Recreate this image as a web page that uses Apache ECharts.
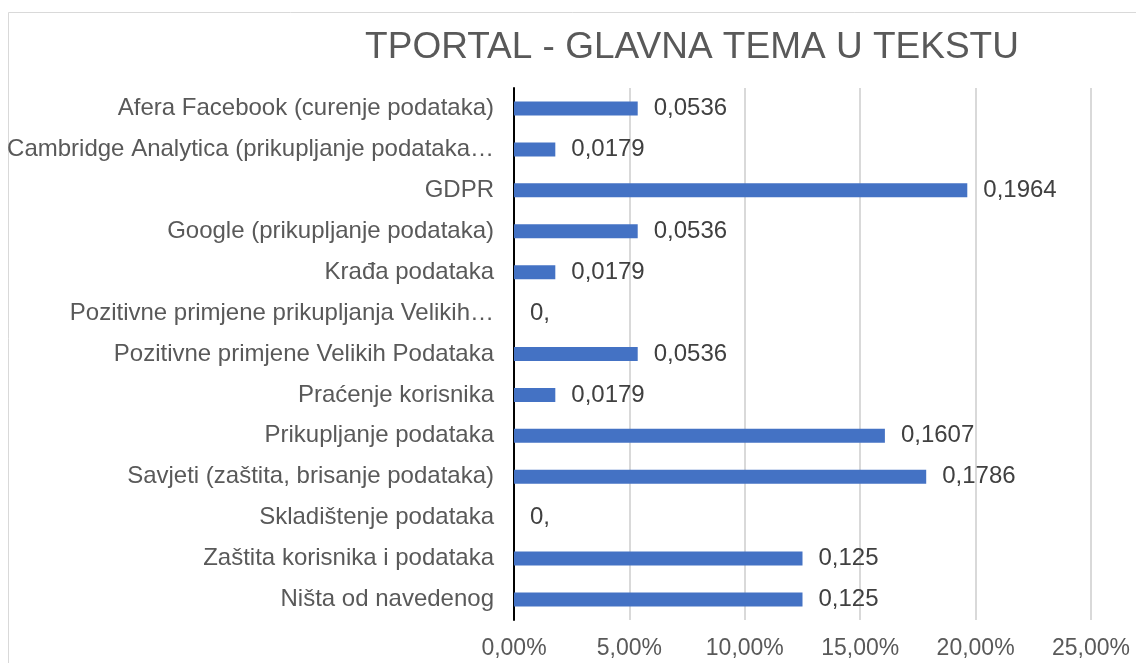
<!DOCTYPE html>
<html>
<head>
<meta charset="utf-8">
<script src="https://cdn.jsdelivr.net/npm/echarts@6/dist/echarts.min.js"></script>
<style>
html,body{margin:0;padding:0;background:#fff;}
#chart{width:1136px;height:663px;}
</style>
</head>
<body>
<div id="chart"></div>
<script>
var categories = [
	'Afera Facebook (curenje podataka)',
	'Cambridge Analytica (prikupljanje podataka…',
	'GDPR',
	'Google (prikupljanje podataka)',
	'Krađa podataka',
	'Pozitivne primjene prikupljanja Velikih…',
	'Pozitivne primjene Velikih Podataka',
	'Praćenje korisnika',
	'Prikupljanje podataka',
	'Savjeti (zaštita, brisanje podataka)',
	'Skladištenje podataka',
	'Zaštita korisnika i podataka',
	'Ništa od navedenog'
];
var values = [0.0536, 0.0179, 0.1964, 0.0536, 0.0179, 0, 0.0536, 0.0179, 0.1607, 0.1786, 0, 0.125, 0.125];
var titleText = 'TPORTAL - GLAVNA TEMA U TEKSTU';

var myChart = echarts.init(document.getElementById('chart'));
var chartOption = {
	backgroundColor: '#fff',
	animation: false,
	title: {
		text: titleText,
		left: 687,
		textAlign: 'center',
		top: 24,
		textStyle: {
			fontFamily: 'Liberation Sans',
			fontSize: 37,
			fontWeight: 'normal',
			color: '#595959'
		}
	},
	graphic: [{
		type: 'rect',
		shape: {x: 8.5, y: 12.5, width: 1200, height: 800},
		style: {fill: 'none', stroke: '#d9d9d9', lineWidth: 1},
		silent: true
	}],
	grid: {left: 514, right: 45, top: 88, bottom: 43},
	xAxis: {
		type: 'value',
		min: 0,
		max: 0.25,
		interval: 0.05,
		axisLine: {show: false},
		axisTick: {show: false},
		splitLine: {lineStyle: {color: '#d9d9d9', width: 2}},
		axisLabel: {
			margin: 17,
			fontFamily: 'Liberation Sans',
			fontSize: 23,
			color: '#595959',
			formatter: function (v) {
				return (v * 100).toFixed(2).replace('.', ',') + '%';
			}
		}
	},
	yAxis: {
		type: 'category',
		inverse: true,
		data: categories,
		axisLine: {lineStyle: {color: '#000', width: 2}},
		axisTick: {show: false},
		axisLabel: {
			margin: 20,
			fontFamily: 'Liberation Sans',
			fontSize: 24,
			color: '#595959'
		}
	},
	series: [{
		type: 'bar',
		data: values,
		barWidth: 14,
		itemStyle: {color: '#4472c4'},
		label: {
			show: true,
			position: 'right',
			distance: 16,
			fontFamily: 'Liberation Sans',
			fontSize: 24,
			color: '#404040',
			formatter: function (p) {
				if (p.value === 0) return '0,';
				return String(p.value).replace('.', ',');
			}
		}
	}]
};
myChart.setOption(chartOption);
</script>
</body>
</html>
